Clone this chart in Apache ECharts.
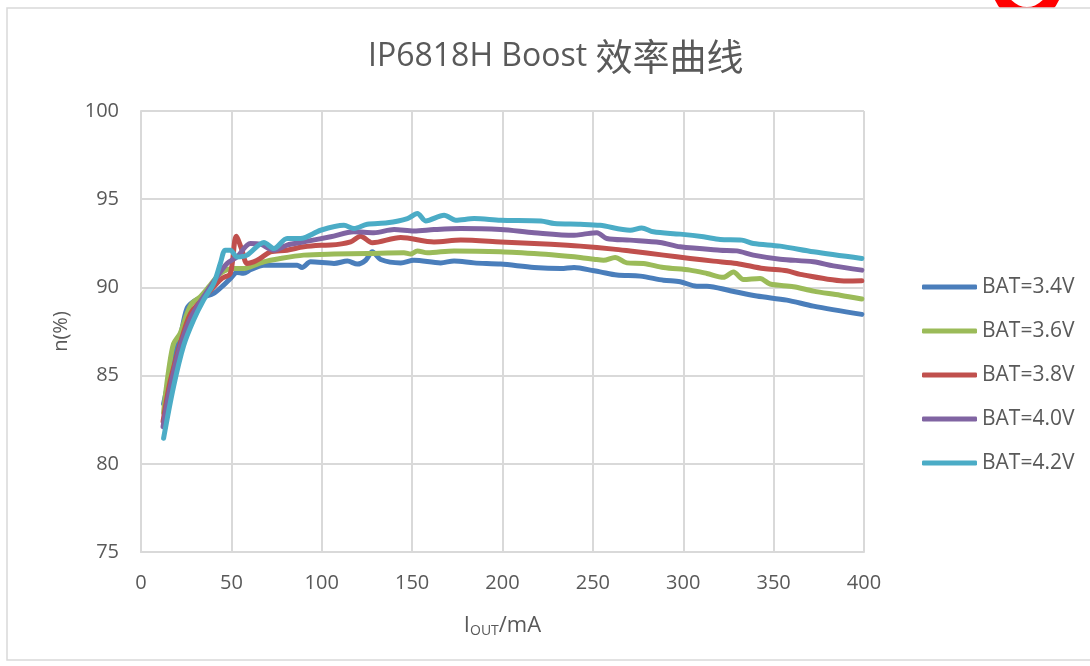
<!DOCTYPE html>
<html>
<head>
<meta charset="utf-8">
<script src="https://cdn.jsdelivr.net/npm/echarts@6/dist/echarts.min.js"></script>
<style>
html,body{margin:0;padding:0;background:#fff;}
#chart{width:1090px;height:666px;}
</style>
</head>
<body>
<div id="chart"></div>
<script>
const seriesNames = ['BAT=3.4V', 'BAT=3.6V', 'BAT=3.8V', 'BAT=4.0V', 'BAT=4.2V'];
const xTicks = [0, 50, 100, 150, 200, 250, 300, 350, 400];
const yTicks = [75, 80, 85, 90, 95, 100];

const iBat34 = [12.5, 18, 21.7, 25.4, 29.1, 34.6, 40.2, 45.7, 49.4, 53.1, 56.7, 60.5, 67.9, 78.9, 86.4, 89.1, 93.8, 106.8, 114.2, 119.7, 124.3, 128, 132.6, 143.7, 151, 165.8, 173.2, 184.3, 199, 217.5, 232.3, 239.6, 250.7, 254, 263.3, 276.2, 289.1, 298.3, 307.5, 313.1, 326, 340.7, 357.3, 372, 398.8];
const effBat34 = [83.4, 85.9, 87.2, 88.8, 89.2, 89.47, 89.66, 90.13, 90.5, 90.85, 90.8, 91.0, 91.26, 91.26, 91.26, 91.13, 91.45, 91.36, 91.49, 91.32, 91.54, 92.02, 91.58, 91.39, 91.54, 91.39, 91.5, 91.39, 91.32, 91.13, 91.07, 91.13, 90.94, 90.88, 90.7, 90.64, 90.41, 90.32, 90.07, 90.07, 89.81, 89.51, 89.28, 88.94, 88.47];

const iBat36 = [12.5, 13.4, 15.3, 18, 21.7, 25.4, 28.2, 32.8, 38.3, 43.9, 51.2, 56.8, 60.5, 67.9, 77.1, 90, 106.8, 125.2, 145.5, 149.2, 152.9, 158.5, 173.2, 199, 221.2, 236, 243, 250.7, 255.9, 262.3, 268.8, 278, 289.1, 303.8, 313.1, 322.2, 327.8, 333.3, 342.5, 348, 361, 372, 386.8, 398.8];
const effBat36 = [82.9, 83.8, 85.3, 86.8, 87.4, 88.5, 89.1, 89.47, 90.13, 90.79, 91.07, 91.07, 91.17, 91.45, 91.64, 91.83, 91.89, 91.92, 91.96, 91.89, 92.07, 91.96, 92.07, 92.02, 91.89, 91.77, 91.7, 91.6, 91.54, 91.7, 91.39, 91.36, 91.13, 90.98, 90.79, 90.57, 90.88, 90.45, 90.51, 90.19, 90.04, 89.79, 89.56, 89.34];

const iBat38 = [12.2, 16, 21.7, 27.3, 34.6, 40, 44.8, 49.4, 52.7, 55.9, 58.6, 62.3, 66, 71.6, 80.8, 90, 99.4, 104.9, 116, 121.5, 128, 143.7, 162.1, 176.9, 199, 217.5, 236, 243, 261.4, 270.6, 289.1, 303.8, 316.7, 329.6, 344.4, 357.3, 364.7, 390.5, 398.8];
const effBat38 = [82.4, 84.6, 86.8, 88.5, 89.4, 90.0, 90.51, 90.79, 92.9, 92.11, 91.36, 91.45, 91.64, 92.02, 92.11, 92.3, 92.39, 92.4, 92.58, 92.9, 92.53, 92.83, 92.58, 92.68, 92.58, 92.49, 92.39, 92.34, 92.17, 92.06, 91.83, 91.64, 91.49, 91.36, 91.07, 90.94, 90.74, 90.36, 90.37];

const iBat40 = [12.2, 16.2, 21.7, 27.3, 34.6, 42, 47.6, 53.1, 60.5, 66, 73.5, 80.8, 90, 104.9, 117.8, 128.9, 140, 151, 162.1, 176.9, 199, 217.5, 239.6, 245, 252.2, 257.7, 270.6, 287.2, 298.3, 320.4, 329.6, 338.8, 353.6, 372, 383.1, 398.8];
const effBat40 = [82.1, 84.37, 86.64, 88.24, 89.47, 90.6, 91.36, 91.73, 92.49, 92.45, 92.11, 92.4, 92.58, 92.87, 93.15, 93.1, 93.28, 93.2, 93.28, 93.34, 93.28, 93.1, 92.95, 93.02, 93.1, 92.77, 92.68, 92.55, 92.3, 92.11, 92.07, 91.83, 91.6, 91.45, 91.22, 90.98];

const iBat42 = [12.5, 18, 23.6, 29.1, 34.6, 40.2, 43.9, 46.6, 49.4, 53.1, 58.6, 68, 73.5, 80.8, 88.2, 99.4, 112.3, 117.8, 125.2, 136.3, 147.4, 152.9, 157.5, 167.7, 174.1, 184.3, 199, 221.2, 228.6, 243, 254, 270.6, 277, 283.5, 298.3, 311.2, 320.4, 332.4, 338.8, 353.6, 372, 398.8];
const effBat42 = [81.45, 84.37, 86.7, 88.15, 89.28, 90.22, 91.36, 92.11, 92.11, 91.73, 91.83, 92.55, 92.2, 92.77, 92.77, 93.24, 93.52, 93.34, 93.58, 93.66, 93.9, 94.19, 93.77, 94.09, 93.81, 93.9, 93.81, 93.77, 93.62, 93.58, 93.52, 93.24, 93.37, 93.15, 93.02, 92.87, 92.72, 92.68, 92.49, 92.34, 92.02, 91.64];

const currents = [iBat34, iBat36, iBat38, iBat40, iBat42];
const effs = [effBat34, effBat36, effBat38, effBat40, effBat42];
const colors = ['#4A7EBB', '#9BBB59', '#C0504D', '#8064A2', '#4BACC6'];

const latin = '"Open Sans", "Noto Sans", sans-serif';
const cjk = '"Noto Sans CJK SC", sans-serif';

const chart = echarts.init(document.getElementById('chart'), null, {renderer: 'canvas'});
chart.setOption({
  animation: false,
  backgroundColor: '#fff',
  graphic: [
    {type: 'ring', shape: {cx: 1027, cy: -14, r: 35, r0: 21}, style: {fill: '#FF0000'}, z: -20, silent: true},
    {type: 'rect', shape: {x: 7, y: 8, width: 1100, height: 652}, style: {fill: '#fff', stroke: '#D9D9D9', lineWidth: 1.5}, z: -10, silent: true}
  ],
  title: {
    text: '{a|IP6818H Boost }{b|效率曲线}',
    left: 363,
    top: 33,
    textStyle: {
      fontWeight: 'normal',
      rich: {
        a: {fontFamily: latin, fontSize: 32, color: '#595959', fontWeight: 'normal'},
        b: {fontFamily: cjk, fontSize: 37, color: '#595959', fontWeight: 'normal'}
      }
    }
  },
  color: colors,
  legend: {
    orient: 'vertical',
    left: 922,
    top: 275,
    padding: 0,
    itemWidth: 55,
    itemHeight: 5,
    itemGap: 20,
    icon: 'roundRect',
    textStyle: {fontFamily: latin, fontSize: 21, color: '#595959', lineHeight: 24},
    data: seriesNames
  },
  grid: {left: 141, right: 226, top: 111, bottom: 114, containLabel: false},
  xAxis: {
    type: 'value',
    min: xTicks[0],
    max: xTicks[xTicks.length - 1],
    interval: 50,
    name: '{a|I}{s|OUT}{a|/mA}',
    nameLocation: 'middle',
    nameGap: 61,
    nameTextStyle: {
      rich: {
        a: {fontFamily: latin, fontSize: 22, color: '#595959'},
        s: {fontFamily: latin, fontSize: 14, color: '#595959', verticalAlign: 'bottom', padding: [11, 0, 0, 0]}
      }
    },
    axisLine: {show: true, lineStyle: {color: '#D9D9D9', width: 2}},
    axisTick: {show: false},
    axisLabel: {fontFamily: latin, fontSize: 20, color: '#595959', margin: 21},
    splitLine: {show: true, lineStyle: {color: '#D9D9D9', width: 2}}
  },
  yAxis: {
    type: 'value',
    min: yTicks[0],
    max: yTicks[yTicks.length - 1],
    interval: 5,
    name: 'n(%)',
    nameLocation: 'middle',
    nameGap: 70,
    nameTextStyle: {fontFamily: latin, fontSize: 20, color: '#595959'},
    axisLine: {show: true, lineStyle: {color: '#D9D9D9', width: 2}},
    axisTick: {show: false},
    axisLabel: {fontFamily: latin, fontSize: 20, color: '#595959', margin: 22},
    splitLine: {show: true, lineStyle: {color: '#D9D9D9', width: 2}}
  },
  series: seriesNames.map((name, k) => ({
    name: name,
    type: 'line',
    smooth: 0.3,
    symbol: 'none',
    lineStyle: {width: 5, color: colors[k], cap: 'round', join: 'round'},
    itemStyle: {color: colors[k]},
    data: currents[k].map((x, i) => [x, effs[k][i]])
  }))
});
</script>
</body>
</html>
